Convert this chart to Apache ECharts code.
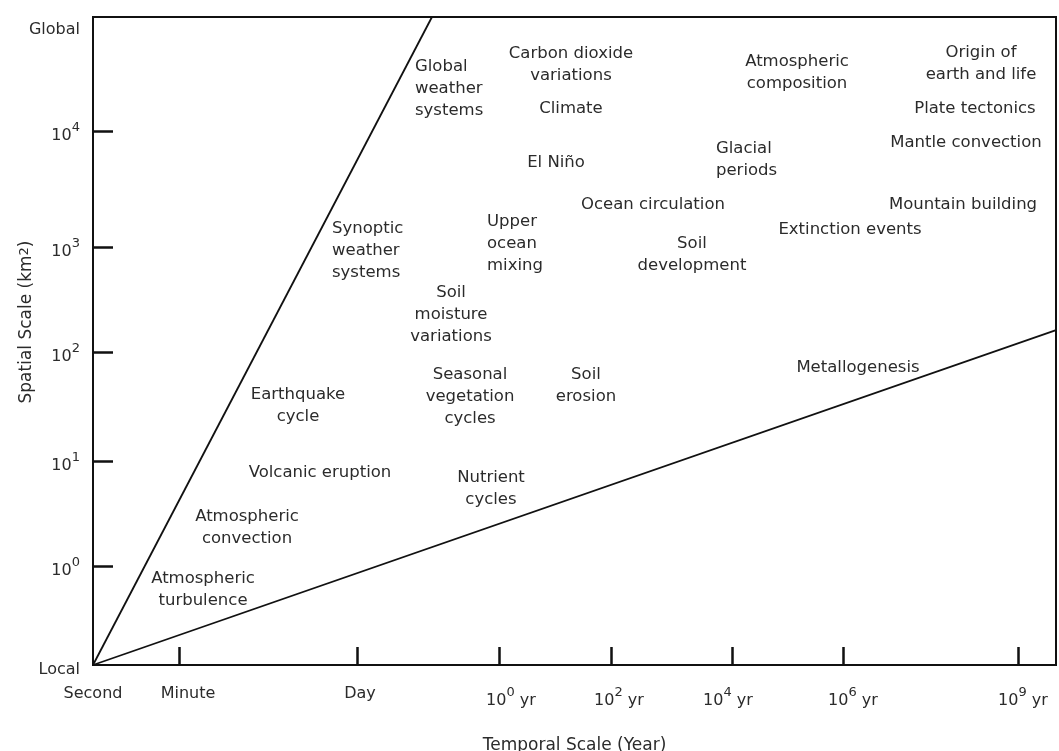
<!DOCTYPE html>
<html>
<head>
<meta charset="utf-8">
<script src="https://cdn.jsdelivr.net/npm/echarts@6/dist/echarts.min.js"></script>
<style>
  html, body { margin: 0; padding: 0; background: #fff; }
  #chart { width: 1059px; height: 751px; }
</style>
</head>
<body>
<div id="chart"></div>
<script>
// Temporal axis: positions in roughly log-decade units, from "Second" at 0
const xTickPos = [1.558, 4.783, 7.355, 9.384, 11.576, 13.587, 16.757];
const xLabelPos = [0, 1.721, 4.837, 7.572, 9.529, 11.503, 13.768, 16.848];
const xLabelText = ['Second', 'Minute', 'Day',
  '{n|10}{s|0}{n| yr}', '{n|10}{s|2}{n| yr}', '{n|10}{s|4}{n| yr}',
  '{n|10}{s|6}{n| yr}', '{n|10}{s|9}{n| yr}'];
const xMin = 0, xMax = 17.446;

// Spatial axis: decades of km², 10^0 at 0
const yTickPos = [0, 0.966, 1.968, 2.933, 4.0];
const yLabelPos = [-0.91, 0, 0.966, 1.968, 2.933, 4.0, 4.976];
const yLabelText = ['Local', '{n|10}{s|0}', '{n|10}{s|1}', '{n|10}{s|2}',
  '{n|10}{s|3}', '{n|10}{s|4}', 'Global'];
const yMin = -0.91, yMax = 5.05;

// Boundary lines of the space-time domain
const upperBoundX = [0, 6.141];
const upperBoundY = [-0.91, 5.05];
const lowerBoundX = [0, 17.446];
const lowerBoundY = [-0.91, 2.17];

// Earth-system processes placed in space-time
const phenomena = [
  'Global\nweather\nsystems', 'Carbon dioxide\nvariations', 'Climate',
  'Atmospheric\ncomposition', 'Origin of\nearth and life', 'Plate tectonics',
  'Mantle convection', 'El Niño', 'Glacial\nperiods', 'Ocean circulation',
  'Mountain building', 'Extinction events', 'Upper\nocean\nmixing',
  'Soil\ndevelopment', 'Synoptic\nweather\nsystems', 'Soil\nmoisture\nvariations',
  'Metallogenesis', 'Earthquake\ncycle', 'Seasonal\nvegetation\ncycles',
  'Soil\nerosion', 'Volcanic eruption', 'Nutrient\ncycles',
  'Atmospheric\nconvection', 'Atmospheric\nturbulence'
];
const phenX = [5.833, 8.659, 8.659, 12.754, 16.087, 15.978, 15.815, 8.388, 11.286,
  10.145, 15.761, 13.714, 7.138, 10.851, 4.330, 6.486, 13.859, 3.714, 6.830,
  8.931, 4.112, 7.210, 2.790, 1.993];
const phenY = [4.386, 4.611, 4.211, 4.533, 4.621, 4.211, 3.890, 3.706, 3.733,
  3.320, 3.320, 3.094, 2.961, 2.860, 2.897, 2.308, 1.821, 1.471, 1.559,
  1.655, 0.855, 0.708, 0.354, -0.216];
const phenAlign = ['left', 'center', 'center', 'center', 'center', 'center',
  'center', 'center', 'left', 'center', 'center', 'center', 'left', 'center',
  'left', 'center', 'center', 'center', 'center', 'center', 'center', 'center',
  'center', 'center'];

const FONT = '"DejaVu Sans", Verdana, sans-serif';
const INK = '#111';
const TEXT = '#2b2b2b';

function pick(pos, texts, v) {
  let best = 0;
  for (let i = 1; i < pos.length; i++) {
    if (Math.abs(pos[i] - v) < Math.abs(pos[best] - v)) best = i;
  }
  return texts[best];
}

const supRich = {
  n: { fontSize: 16, lineHeight: 30, color: TEXT, fontFamily: FONT },
  s: { fontSize: 13, lineHeight: 14, verticalAlign: 'top', color: TEXT, fontFamily: FONT }
};

const chart = echarts.init(document.getElementById('chart'));
chart.setOption({
  animation: false,
  backgroundColor: '#fff',
  grid: {
    left: 93, right: 3, top: 17, bottom: 86,
    containLabel: false, outerBoundsMode: 'none',
    show: true, borderColor: INK, borderWidth: 2, backgroundColor: 'transparent'
  },
  xAxis: {
    type: 'value', min: xMin, max: xMax,
    splitLine: { show: false },
    axisLine: { show: true, onZero: false, lineStyle: { color: INK, width: 2 } },
    axisTick: { show: true, inside: true, length: 18, customValues: xTickPos,
      lineStyle: { color: INK, width: 2.5 } },
    axisLabel: {
      customValues: xLabelPos, margin: 21, color: TEXT,
      fontFamily: FONT, fontSize: 16, showMinLabel: true, showMaxLabel: true,
      formatter: v => pick(xLabelPos, xLabelText, v),
      rich: supRich
    },
    name: 'Temporal Scale (Year)', nameLocation: 'middle', nameGap: 72,
    nameMoveOverlap: false,
    nameTextStyle: { fontFamily: FONT, fontSize: 17, color: TEXT }
  },
  yAxis: {
    type: 'value', min: yMin, max: yMax,
    splitLine: { show: false },
    axisLine: { show: true, onZero: false, lineStyle: { color: INK, width: 2 } },
    axisTick: { show: true, inside: true, length: 20, customValues: yTickPos,
      lineStyle: { color: INK, width: 2.5 } },
    axisLabel: {
      customValues: yLabelPos, margin: 13, color: TEXT, padding: [10, 0, 0, 0],
      fontFamily: FONT, fontSize: 16, showMinLabel: true, showMaxLabel: true,
      formatter: v => pick(yLabelPos, yLabelText, v),
      rich: supRich
    },
    name: 'Spatial Scale (km{s|2})', nameLocation: 'middle', nameGap: 58,
    nameMoveOverlap: false,
    nameTextStyle: {
      fontFamily: FONT, fontSize: 17, color: TEXT, padding: [0, 0, 0, 38],
      rich: {
        s: { fontSize: 13, lineHeight: 14, verticalAlign: 'top', color: TEXT, fontFamily: FONT }
      }
    }
  },
  series: [
    {
      type: 'line', silent: true, symbol: 'none',
      data: upperBoundX.map((x, i) => [x, upperBoundY[i]]),
      lineStyle: { color: INK, width: 1.8 }
    },
    {
      type: 'line', silent: true, symbol: 'none',
      data: lowerBoundX.map((x, i) => [x, lowerBoundY[i]]),
      lineStyle: { color: INK, width: 1.8 }
    },
    {
      type: 'scatter', silent: true, symbolSize: 0,
      itemStyle: { color: TEXT, opacity: 1 },
      label: {
        show: true, position: 'inside', verticalAlign: 'middle', opacity: 1,
        fontFamily: FONT, fontSize: 16.5, lineHeight: 22, color: TEXT,
        textBorderWidth: 0
      },
      data: phenomena.map((t, i) => ({
        value: [phenX[i], phenY[i]],
        label: { formatter: t, align: phenAlign[i], color: TEXT }
      }))
    }
  ]
});
</script>
</body>
</html>
